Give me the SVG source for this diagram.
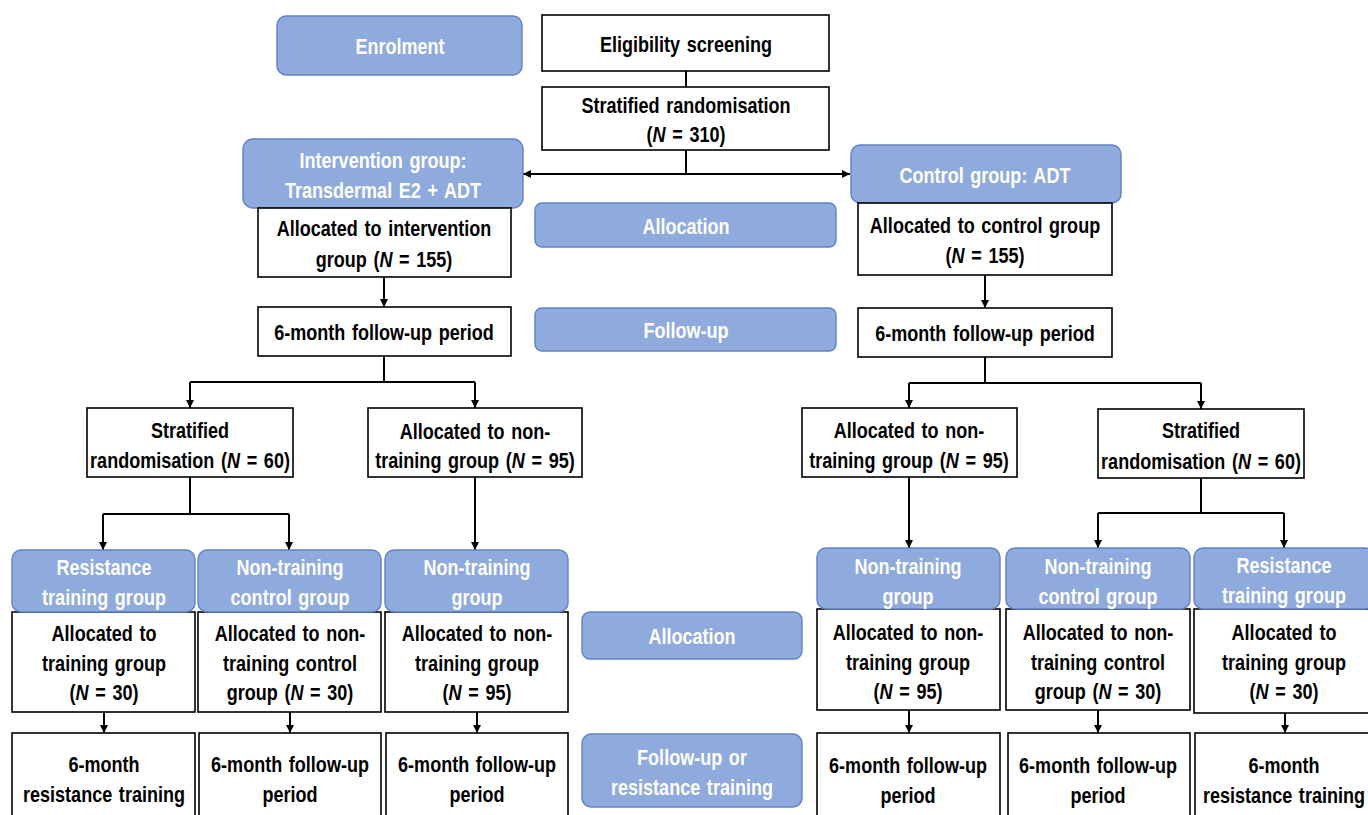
<svg xmlns="http://www.w3.org/2000/svg" width="1368" height="815" viewBox="0 0 1368 815">
<defs>
<marker id="ah" viewBox="0 0 10 10" refX="10" refY="5" markerWidth="8" markerHeight="8" markerUnits="userSpaceOnUse" orient="auto-start-reverse">
<path d="M0,0 L10,5 L0,10 z" fill="#000"/>
</marker>
<style>
.b{fill:#8FAADC;stroke:#5F82C6;stroke-width:1.4}
.w{fill:#fff;stroke:#000;stroke-width:1.6}
text{font-family:"Liberation Sans",Arial,sans-serif;font-weight:bold;font-size:22px;text-anchor:middle;word-spacing:2px}
.tw{fill:#fff}
.tb{fill:#000}
.c{fill:none;stroke:#000;stroke-width:2}
.i{font-style:italic}
</style>
</defs>
<rect width="1368" height="815" fill="#fff"/>

<g id="connectors">
<path class="c" d="M686,71 V87"/>
<path class="c" d="M686,150 V174"/>
<path class="c" d="M523,174 H850" marker-start="url(#ah)" marker-end="url(#ah)"/>
<path class="c" d="M384,277 V307" marker-end="url(#ah)"/>
<path class="c" d="M985,275 V308" marker-end="url(#ah)"/>
<path class="c" d="M384,356 V382 M190,382 H475"/>
<path class="c" d="M190,382 V408" marker-end="url(#ah)"/>
<path class="c" d="M475,382 V408" marker-end="url(#ah)"/>
<path class="c" d="M985,357 V383 M909,383 H1201"/>
<path class="c" d="M909,383 V408" marker-end="url(#ah)"/>
<path class="c" d="M1201,383 V409" marker-end="url(#ah)"/>
<path class="c" d="M190,477 V514 M103,514 H289"/>
<path class="c" d="M103,514 V550" marker-end="url(#ah)"/>
<path class="c" d="M289,514 V550" marker-end="url(#ah)"/>
<path class="c" d="M475,477 V550" marker-end="url(#ah)"/>
<path class="c" d="M909,477 V548" marker-end="url(#ah)"/>
<path class="c" d="M1201,478 V513 M1098,513 H1284"/>
<path class="c" d="M1098,513 V548" marker-end="url(#ah)"/>
<path class="c" d="M1284,513 V548" marker-end="url(#ah)"/>
<path class="c" d="M104,712 V733" marker-end="url(#ah)"/>
<path class="c" d="M290,712 V733" marker-end="url(#ah)"/>
<path class="c" d="M477,712 V733" marker-end="url(#ah)"/>
<path class="c" d="M909,710 V733" marker-end="url(#ah)"/>
<path class="c" d="M1098,710 V733" marker-end="url(#ah)"/>
<path class="c" d="M1285,713 V733" marker-end="url(#ah)"/>
</g>

<g id="enrolment">
<rect class="b" x="277" y="16" width="245" height="59" rx="9"/>
<text class="tw" transform="translate(400 0) scale(.82 1)" y="54">Enrolment</text>
</g>
<g id="eligibility">
<rect class="w" x="542" y="15" width="287" height="56"/>
<text class="tb" transform="translate(686 0) scale(.82 1)" y="52">Eligibility screening</text>
</g>
<g id="stratified-main">
<rect class="w" x="542" y="87" width="287" height="63"/>
<text class="tb" transform="translate(686 0) scale(.82 1)"><tspan x="0" y="113">Stratified randomisation</tspan><tspan x="0" y="142">(<tspan class="i">N</tspan> = 310)</tspan></text>
</g>
<g id="intervention-group">
<rect class="b" x="243" y="139" width="280" height="69" rx="10"/>
<text class="tw" transform="translate(383 0) scale(.82 1)"><tspan x="0" y="168">Intervention group:</tspan><tspan x="0" y="198">Transdermal E2 + ADT</tspan></text>
</g>
<g id="control-group">
<rect class="b" x="851" y="145" width="270" height="58" rx="9"/>
<text class="tw" transform="translate(985 0) scale(.82 1)" y="183">Control group: ADT</text>
</g>
<g id="allocated-intervention">
<rect class="w" x="258" y="208" width="253" height="69"/>
<text class="tb" transform="translate(384 0) scale(.82 1)"><tspan x="0" y="236">Allocated to intervention</tspan><tspan x="0" y="267">group (<tspan class="i">N</tspan> = 155)</tspan></text>
</g>
<g id="allocation-top">
<rect class="b" x="535" y="203" width="301" height="44" rx="7"/>
<text class="tw" transform="translate(686 0) scale(.82 1)" y="234">Allocation</text>
</g>
<g id="allocated-control">
<rect class="w" x="858" y="203" width="254" height="72"/>
<text class="tb" transform="translate(985 0) scale(.82 1)"><tspan x="0" y="233">Allocated to control group</tspan><tspan x="0" y="263">(<tspan class="i">N</tspan> = 155)</tspan></text>
</g>
<g id="followup-left">
<rect class="w" x="258" y="307" width="253" height="49"/>
<text class="tb" transform="translate(384 0) scale(.82 1)" y="340">6-month follow-up period</text>
</g>
<g id="followup-label">
<rect class="b" x="535" y="308" width="301" height="43" rx="7"/>
<text class="tw" transform="translate(686 0) scale(.82 1)" y="338">Follow-up</text>
</g>
<g id="followup-right">
<rect class="w" x="858" y="308" width="254" height="49"/>
<text class="tb" transform="translate(985 0) scale(.82 1)" y="341">6-month follow-up period</text>
</g>

<g id="strat-left">
<rect class="w" x="87" y="408" width="206" height="69"/>
<text class="tb" transform="translate(190 0) scale(.82 1)"><tspan x="0" y="438">Stratified</tspan><tspan x="0" y="468">randomisation  (<tspan class="i">N</tspan> = 60)</tspan></text>
</g>
<g id="nontrain-left">
<rect class="w" x="368" y="408" width="214" height="69"/>
<text class="tb" transform="translate(475 0) scale(.82 1)"><tspan x="0" y="439">Allocated to non-</tspan><tspan x="0" y="468">training group (<tspan class="i">N</tspan> = 95)</tspan></text>
</g>
<g id="nontrain-right">
<rect class="w" x="802" y="408" width="215" height="69"/>
<text class="tb" transform="translate(909 0) scale(.82 1)"><tspan x="0" y="438">Allocated to non-</tspan><tspan x="0" y="468">training group (<tspan class="i">N</tspan> = 95)</tspan></text>
</g>
<g id="strat-right">
<rect class="w" x="1098" y="409" width="206" height="69"/>
<text class="tb" transform="translate(1201 0) scale(.82 1)"><tspan x="0" y="438">Stratified</tspan><tspan x="0" y="469">randomisation  (<tspan class="i">N</tspan> = 60)</tspan></text>
</g>

<g id="L1">
<rect class="w" x="12" y="612" width="183" height="100"/>
<rect class="b" x="12" y="550" width="183" height="62" rx="9"/>
<text class="tw" transform="translate(104 0) scale(.82 1)"><tspan x="0" y="575">Resistance</tspan><tspan x="0" y="605">training group</tspan></text>
<text class="tb" transform="translate(104 0) scale(.82 1)"><tspan x="0" y="641">Allocated to</tspan><tspan x="0" y="671">training group</tspan><tspan x="0" y="700">(<tspan class="i">N</tspan> = 30)</tspan></text>
</g>
<g id="L2">
<rect class="w" x="198" y="612" width="183" height="100"/>
<rect class="b" x="198" y="550" width="183" height="62" rx="9"/>
<text class="tw" transform="translate(290 0) scale(.82 1)"><tspan x="0" y="575">Non-training</tspan><tspan x="0" y="605">control group</tspan></text>
<text class="tb" transform="translate(290 0) scale(.82 1)"><tspan x="0" y="641">Allocated to non-</tspan><tspan x="0" y="671">training control</tspan><tspan x="0" y="700">group (<tspan class="i">N</tspan> = 30)</tspan></text>
</g>
<g id="L3">
<rect class="w" x="385" y="612" width="183" height="100"/>
<rect class="b" x="385" y="550" width="183" height="62" rx="9"/>
<text class="tw" transform="translate(477 0) scale(.82 1)"><tspan x="0" y="575">Non-training</tspan><tspan x="0" y="605">group</tspan></text>
<text class="tb" transform="translate(477 0) scale(.82 1)"><tspan x="0" y="641">Allocated to non-</tspan><tspan x="0" y="671">training group</tspan><tspan x="0" y="700">(<tspan class="i">N</tspan> = 95)</tspan></text>
</g>
<g id="L1b">
<rect class="w" x="12" y="733" width="183" height="90"/>
<text class="tb" transform="translate(104 0) scale(.82 1)"><tspan x="0" y="772">6-month</tspan><tspan x="0" y="802">resistance training</tspan></text>
</g>
<g id="L2b">
<rect class="w" x="199" y="733" width="182" height="90"/>
<text class="tb" transform="translate(290 0) scale(.82 1)"><tspan x="0" y="772">6-month follow-up</tspan><tspan x="0" y="802">period</tspan></text>
</g>
<g id="L3b">
<rect class="w" x="386" y="733" width="182" height="90"/>
<text class="tb" transform="translate(477 0) scale(.82 1)"><tspan x="0" y="772">6-month follow-up</tspan><tspan x="0" y="802">period</tspan></text>
</g>

<g id="allocation-bottom">
<rect class="b" x="582" y="612" width="220" height="47" rx="8"/>
<text class="tw" transform="translate(692 0) scale(.82 1)" y="644">Allocation</text>
</g>
<g id="followup-bottom">
<rect class="b" x="582" y="734" width="220" height="73" rx="9"/>
<text class="tw" transform="translate(692 0) scale(.82 1)"><tspan x="0" y="765">Follow-up or</tspan><tspan x="0" y="795">resistance training</tspan></text>
</g>

<g id="R1">
<rect class="w" x="817" y="609" width="183" height="101"/>
<rect class="b" x="817" y="548" width="183" height="61" rx="9"/>
<text class="tw" transform="translate(908 0) scale(.82 1)"><tspan x="0" y="574">Non-training</tspan><tspan x="0" y="604">group</tspan></text>
<text class="tb" transform="translate(908 0) scale(.82 1)"><tspan x="0" y="640">Allocated to non-</tspan><tspan x="0" y="670">training group</tspan><tspan x="0" y="699">(<tspan class="i">N</tspan> = 95)</tspan></text>
</g>
<g id="R2">
<rect class="w" x="1006" y="609" width="184" height="101"/>
<rect class="b" x="1006" y="548" width="184" height="61" rx="9"/>
<text class="tw" transform="translate(1098 0) scale(.82 1)"><tspan x="0" y="574">Non-training</tspan><tspan x="0" y="604">control group</tspan></text>
<text class="tb" transform="translate(1098 0) scale(.82 1)"><tspan x="0" y="640">Allocated to non-</tspan><tspan x="0" y="670">training control</tspan><tspan x="0" y="699">group (<tspan class="i">N</tspan> = 30)</tspan></text>
</g>
<g id="R3">
<rect class="w" x="1194" y="609" width="180" height="104"/>
<rect class="b" x="1194" y="548" width="180" height="61" rx="9"/>
<text class="tw" transform="translate(1284 0) scale(.82 1)"><tspan x="0" y="573">Resistance</tspan><tspan x="0" y="603">training group</tspan></text>
<text class="tb" transform="translate(1284 0) scale(.82 1)"><tspan x="0" y="640">Allocated to</tspan><tspan x="0" y="670">training group</tspan><tspan x="0" y="699">(<tspan class="i">N</tspan> = 30)</tspan></text>
</g>
<g id="R1b">
<rect class="w" x="817" y="733" width="183" height="90"/>
<text class="tb" transform="translate(908 0) scale(.82 1)"><tspan x="0" y="773">6-month follow-up</tspan><tspan x="0" y="803">period</tspan></text>
</g>
<g id="R2b">
<rect class="w" x="1008" y="733" width="182" height="90"/>
<text class="tb" transform="translate(1098 0) scale(.82 1)"><tspan x="0" y="773">6-month follow-up</tspan><tspan x="0" y="803">period</tspan></text>
</g>
<g id="R3b">
<rect class="w" x="1195" y="733" width="180" height="90"/>
<text class="tb" transform="translate(1284 0) scale(.82 1)"><tspan x="0" y="773">6-month</tspan><tspan x="0" y="803">resistance training</tspan></text>
</g>
</svg>
